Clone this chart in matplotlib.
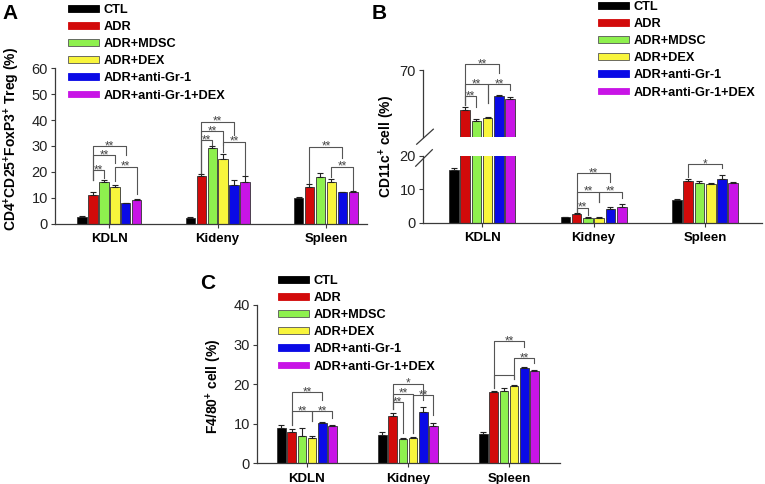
import matplotlib
matplotlib.use('Agg')
import matplotlib.pyplot as plt
from matplotlib.patches import Patch
import numpy as np

plt.rcParams['font.family'] = ['Liberation Sans', 'DejaVu Sans']
plt.rcParams['mathtext.fontset'] = 'custom'
plt.rcParams['mathtext.bf'] = 'Liberation Sans:bold'
plt.rcParams['mathtext.rm'] = 'Liberation Sans:bold'
plt.rcParams['mathtext.default'] = 'bf'

treatments = ['CTL', 'ADR', 'ADR+MDSC', 'ADR+DEX', 'ADR+anti-Gr-1', 'ADR+anti-Gr-1+DEX']
colors = ['#000000', '#d20a0a', '#8ef04e', '#f8f53c', '#0a0ae6', '#c814e6']

# panel A: CD4+CD25+FoxP3+ Treg (%), rows = tissues, cols = treatments
tissues_a = ['KDLN', 'Kideny', 'Spleen']
treg_mean = [[2.5, 11.2, 16.0, 14.3, 7.8, 9.2],
             [2.3, 18.2, 29.0, 25.0, 15.0, 16.2],
             [10.0, 14.0, 18.0, 16.1, 12.0, 12.0]]
treg_err = [[0.5, 0.8, 0.7, 0.4, 0.2, 0.3],
            [0.3, 0.8, 0.8, 1.8, 2.0, 2.0],
            [0.4, 1.2, 1.5, 1.2, 0.3, 0.4]]

# panel B: CD11c+ cell (%)
tissues_bc = ['KDLN', 'Kidney', 'Spleen']
cd11c_mean = [[15.7, 58.0, 54.7, 55.5, 62.1, 61.2],
              [1.6, 2.5, 1.5, 1.5, 4.2, 4.8],
              [6.7, 12.5, 12.0, 11.5, 13.1, 11.9]]
cd11c_err = [[0.6, 0.8, 0.7, 0.3, 0.3, 0.6],
             [0.2, 0.3, 0.2, 0.2, 0.6, 0.9],
             [0.3, 0.6, 0.5, 0.3, 1.0, 0.2]]

# panel C: F4/80+ cell (%)
f480_mean = [[8.8, 8.0, 7.0, 6.5, 10.3, 9.3],
             [7.2, 11.9, 6.2, 6.5, 13.0, 9.3],
             [7.4, 18.0, 18.3, 19.6, 24.2, 23.2]]
f480_err = [[0.8, 0.6, 1.8, 0.5, 0.2, 0.3],
            [0.6, 0.8, 0.2, 0.2, 1.3, 1.0],
            [0.6, 0.3, 0.8, 0.3, 0.2, 0.5]]

# significance brackets: (tissue, bar i, bar j, height, left leg end, right leg end, label)
sig_a = [(0, 1, 2, 20.5, 16.8, 17.5, '**'), (0, 1, 3, 26.3, 16.8, 23.5, '**'),
         (0, 1, 4, 30.0, 16.8, 26.5, '**'), (0, 3, 5, 22.0, 16.5, 11.5, '**'),
         (1, 1, 2, 32.2, 19.5, 30.5, '**'), (1, 1, 3, 35.6, 19.5, 30.3, '**'),
         (1, 1, 4, 39.3, 19.5, 34.2, '**'), (1, 3, 5, 31.6, 27.5, 18.7, '**'),
         (2, 1, 4, 29.7, 15.5, 25.2, '**'), (2, 3, 5, 21.9, 18.1, 13.0, '**')]
sig_b_top = [(0, 1, 2, 62.1, 59.5, 59.0, '**'), (0, 1, 3, 65.7, 59.5, 60.1, '**'),
             (0, 3, 5, 65.7, 60.1, 64.0, '**'), (0, 1, 4, 71.7, 59.5, 69.1, '**')]
sig_b = [(1, 1, 2, 4.5, 3.3, 2.3, '**'), (1, 1, 3, 9.3, 3.3, 6.3, '**'),
         (1, 3, 5, 9.3, 6.3, 7.3, '**'), (1, 1, 4, 14.7, 3.3, 12.2, '**'),
         (2, 1, 4, 17.5, 13.7, 16.2, '*')]
sig_c = [(0, 1, 4, 18.0, 9.7, 16.1, '**'), (0, 1, 3, 13.1, 9.7, 10.6, '**'),
         (0, 3, 5, 13.1, 10.6, 11.4, '**'), (1, 1, 2, 15.4, 13.6, 7.6, '**'),
         (1, 1, 3, 17.6, 13.6, 7.6, '**'), (1, 3, 5, 17.2, 7.6, 12.3, '**'),
         (1, 1, 4, 20.1, 13.6, 16.1, '*'), (2, 1, 3, 22.3, 19.1, 21.2, ''),
         (2, 3, 5, 26.5, 21.2, 25.4, '**'), (2, 1, 4, 30.9, 19.1, 29.3, '**')]

W, H = 765, 484
fig = plt.figure(figsize=(W / 100, H / 100), dpi=100)

SPINE = '#3a3a3a'
LINE = '#555555'
step = 0.101
bw = 0.086


def px_axes(x0, y_top, x1, y_bot):
    return fig.add_axes([x0 / W, 1 - y_bot / H, (x1 - x0) / W, (y_bot - y_top) / H])


def style(ax, bottom=True):
    for s in ['top', 'right']:
        ax.spines[s].set_visible(False)
    ax.spines['left'].set_color(SPINE)
    ax.spines['bottom'].set_color(SPINE)
    ax.spines['left'].set_linewidth(0.9)
    ax.spines['bottom'].set_linewidth(0.9)
    ax.tick_params(axis='y', direction='out', length=3, width=0.8, color=SPINE,
                   labelsize=10.5, pad=2, labelcolor='#222222')
    ax.tick_params(axis='x', direction='out', length=3, width=0.8, color=SPINE, pad=4)
    if not bottom:
        ax.spines['bottom'].set_visible(False)
        ax.tick_params(axis='x', bottom=False, labelbottom=False)


def draw_bars(ax, mean, err):
    mean = np.array(mean)
    err = np.array(err)
    ng = mean.shape[0]
    for k in range(len(treatments)):
        x = np.arange(ng) + (k - 2.5) * step
        ax.bar(x, mean[:, k], bw, color=colors[k], edgecolor='#333333', linewidth=0.6, zorder=2)
        ax.errorbar(x, mean[:, k], yerr=[np.zeros(ng), err[:, k]], fmt='none',
                    ecolor='#222222', elinewidth=0.8, capsize=2, capthick=0.8, zorder=3)


def draw_sig(ax, sig):
    for g, i, j, y, yl, yr, lab in sig:
        x1 = g + (i - 2.5) * step
        x2 = g + (j - 2.5) * step
        ax.plot([x1, x1, x2, x2], [yl, y, y, yr], color=LINE, lw=0.8, clip_on=False, zorder=4)
        if lab:
            ax.annotate(lab, xy=((x1 + x2) / 2, y), xytext=(0, -2.2), textcoords='offset points',
                        ha='center', va='baseline', fontsize=8.5, color='#444444',
                        annotation_clip=False)


def set_groups(ax, names):
    ax.set_xticks(range(len(names)))
    ax.set_xticklabels(names, fontsize=9.5, fontweight='bold')


def add_legend(x_px, y_px):
    handles = [Patch(facecolor=c, edgecolor='#555555' if c in ('#8ef04e', '#f8f53c') else c,
                     linewidth=0.6) for c in colors]
    fig.legend(handles, treatments, loc='upper left', bbox_to_anchor=(x_px / W, 1 - y_px / H),
               frameon=False, borderpad=0, borderaxespad=0, handlelength=2.4, handleheight=0.45,
               handletextpad=0.4, labelspacing=0.4, prop={'weight': 'bold', 'size': 9.2})


def ylabel_at(text, x_px, y_px):
    fig.text(x_px / W, 1 - y_px / H, text, rotation=90, fontsize=10,
             fontweight='bold', ha='center', va='center')


# ---- panel A
axA = px_axes(55, 68.3, 367, 223.5)
draw_bars(axA, treg_mean, treg_err)
draw_sig(axA, sig_a)
axA.set_xlim(-0.503, 2.38)
axA.set_ylim(0, 60)
axA.set_yticks(range(0, 61, 10))
style(axA)
set_groups(axA, tissues_a)
ylabel_at(r'CD4$^{+}$CD25$^{+}$FoxP3$^{+}$ Treg (%)', 12, 139)
add_legend(68, 4)
fig.text(2 / W, 1 - 4 / H, 'A', fontsize=15, fontweight='bold', va='top')

# ---- panel B (broken axis)
axBl = px_axes(423, 155.7, 762, 222.7)
axBu = px_axes(423, 70, 762, 136.7)
for ax in (axBl, axBu):
    draw_bars(ax, cd11c_mean, cd11c_err)
    ax.set_xlim(-0.529, 2.51)
axBl.set_ylim(0, 20)
axBl.set_yticks([0, 10, 20])
axBu.set_ylim(50, 70)
axBu.set_yticks([70])
style(axBl)
style(axBu, bottom=False)
set_groups(axBl, tissues_bc)
draw_sig(axBu, sig_b_top)
draw_sig(axBl, sig_b)
# break marks
dx = 8.3 / 339
axBu.plot([-dx + 2 / 339, dx + 2 / 339], [-7.5 / 66.7, 7.5 / 66.7], transform=axBu.transAxes,
          color=SPINE, lw=0.9, clip_on=False)
axBl.plot([-dx + 1 / 339, dx + 1 / 339], [1 - 10.5 / 67, 1 + 6 / 67], transform=axBl.transAxes,
          color=SPINE, lw=0.9, clip_on=False)
ylabel_at(r'CD11c$^{+}$ cell (%)', 387, 146)
add_legend(598, 1)
fig.text(372 / W, 1 - 4 / H, 'B', fontsize=15, fontweight='bold', va='top')

# ---- panel C
axC = px_axes(256.7, 305, 560, 463.3)
draw_bars(axC, f480_mean, f480_err)
draw_sig(axC, sig_c)
axC.set_xlim(-0.498, 2.505)
axC.set_ylim(0, 40)
axC.set_yticks(range(0, 41, 10))
style(axC)
set_groups(axC, tissues_bc)
ylabel_at(r'F4/80$^{+}$ cell (%)', 214, 386)
add_legend(278, 275)
fig.text(200 / W, 1 - 274 / H, 'C', fontsize=15, fontweight='bold', va='top')

fig.savefig('out.png', dpi=100)
